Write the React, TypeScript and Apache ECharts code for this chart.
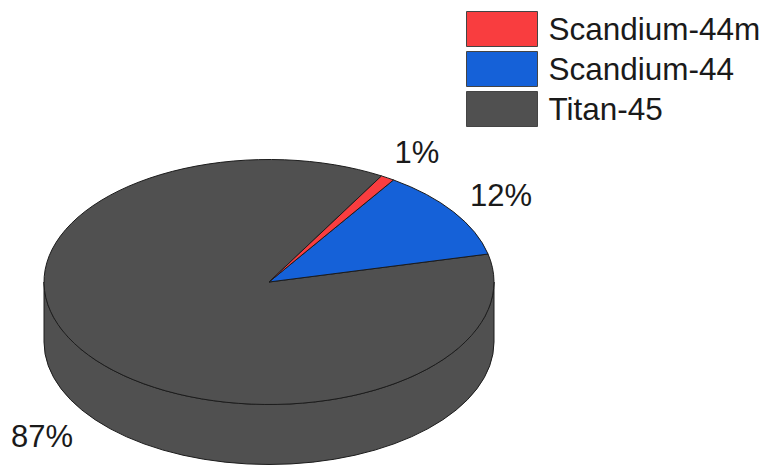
import React, { useEffect, useRef } from "react";
import * as echarts from "echarts";

// Isotope shares, listed clockwise from the start of the first slice
const isotopes = ["Scandium-44m", "Scandium-44", "Titan-45"];
const shares = [1, 12, 87];
const colors = ["#F93D3F", "#1561D8", "#505050"];
const shareLabels = ["1%", "12%", "87%"];

const EDGE = "#1c1c1c";
const FONT = "'Liberation Sans', Arial, sans-serif";
const LABEL_SIZE = 31;
const LEGEND_SIZE = 31.5;

// Geometry of the tilted disc
const CX = 269;
const CY = 282;
const RX = 225;
const RY = 122.5;
const DEPTH = 60;
const START_DEG = 60;
const labelAnchors = [
  [417, 152],
  [501, 195],
  [42, 436],
];

const pointAt = (deg: number): [number, number] => {
  const a = (deg * Math.PI) / 180;
  return [CX + RX * Math.cos(a), CY - RY * Math.sin(a)];
};

// Elliptical sector swept clockwise from one angle to another
const sectorPath = (fromDeg: number, toDeg: number) => {
  const [x0, y0] = pointAt(fromDeg);
  const [x1, y1] = pointAt(toDeg);
  const large = fromDeg - toDeg > 180 ? 1 : 0;
  return `M${CX} ${CY}L${x0} ${y0}A${RX} ${RY} 0 ${large} 1 ${x1} ${y1}Z`;
};

// Front wall of the disc, seen below the top face
const wallPath = () =>
  `M${CX + RX} ${CY}L${CX + RX} ${CY + DEPTH}` +
  `A${RX} ${RY} 0 0 1 ${CX - RX} ${CY + DEPTH}` +
  `L${CX - RX} ${CY}A${RX} ${RY} 0 0 0 ${CX + RX} ${CY}Z`;

const total = shares.reduce((s, v) => s + v, 0);

const buildSeries = (index: number) => ({
  type: "custom",
  name: isotopes[index],
  coordinateSystem: "none",
  silent: true,
  itemStyle: { color: colors[index], borderColor: EDGE, borderWidth: 1 },
  data: [[shares[index]]],
  renderItem: (_params: unknown, api: any) => {
    const before = shares.slice(0, index).reduce((s, v) => s + v, 0);
    const from = START_DEG - (before / total) * 360;
    const to = from - (api.value(0) / total) * 360;
    const style = { fill: colors[index], stroke: EDGE, lineWidth: 1 };
    const children: any[] = [];
    if (index === isotopes.length - 1) {
      children.push({ type: "path", shape: { pathData: wallPath() }, style });
    }
    children.push({ type: "path", shape: { pathData: sectorPath(from, to) }, style });
    children.push({
      type: "text",
      x: labelAnchors[index][0],
      y: labelAnchors[index][1],
      style: {
        text: shareLabels[index],
        fill: "#1a1a1a",
        font: `${LABEL_SIZE}px ${FONT}`,
        align: "center",
        verticalAlign: "middle",
      },
    });
    return { type: "group", children };
  },
});

export default function App() {
  const ref = useRef<HTMLDivElement>(null);

  useEffect(() => {
    document.body.style.margin = "0";
    const chart = echarts.init(ref.current!, null, { renderer: "svg" });
    chart.setOption({
      animation: false,
      backgroundColor: "#ffffff",
      tooltip: { show: false },
      legend: {
        orient: "vertical",
        left: 466,
        top: 11,
        padding: 0,
        itemWidth: 71,
        itemHeight: 35,
        itemGap: 4,
        icon: "rect",
        selectedMode: false,
        textStyle: {
          fontFamily: FONT,
          fontSize: LEGEND_SIZE,
          lineHeight: 30,
          color: "#1a1a1a",
          padding: [0, 0, 4, 6],
        },
        data: isotopes.map((name, i) => ({
          name,
          itemStyle: { color: colors[i], borderColor: "#444444", borderWidth: 1 },
        })),
      },
      // Later slices sit on top of the large one, so it is drawn first
      series: isotopes.map((_, i) => buildSeries(i)).reverse(),
    });
    return () => chart.dispose();
  }, []);

  return <div ref={ref} style={{ width: 762, height: 466 }} />;
}
